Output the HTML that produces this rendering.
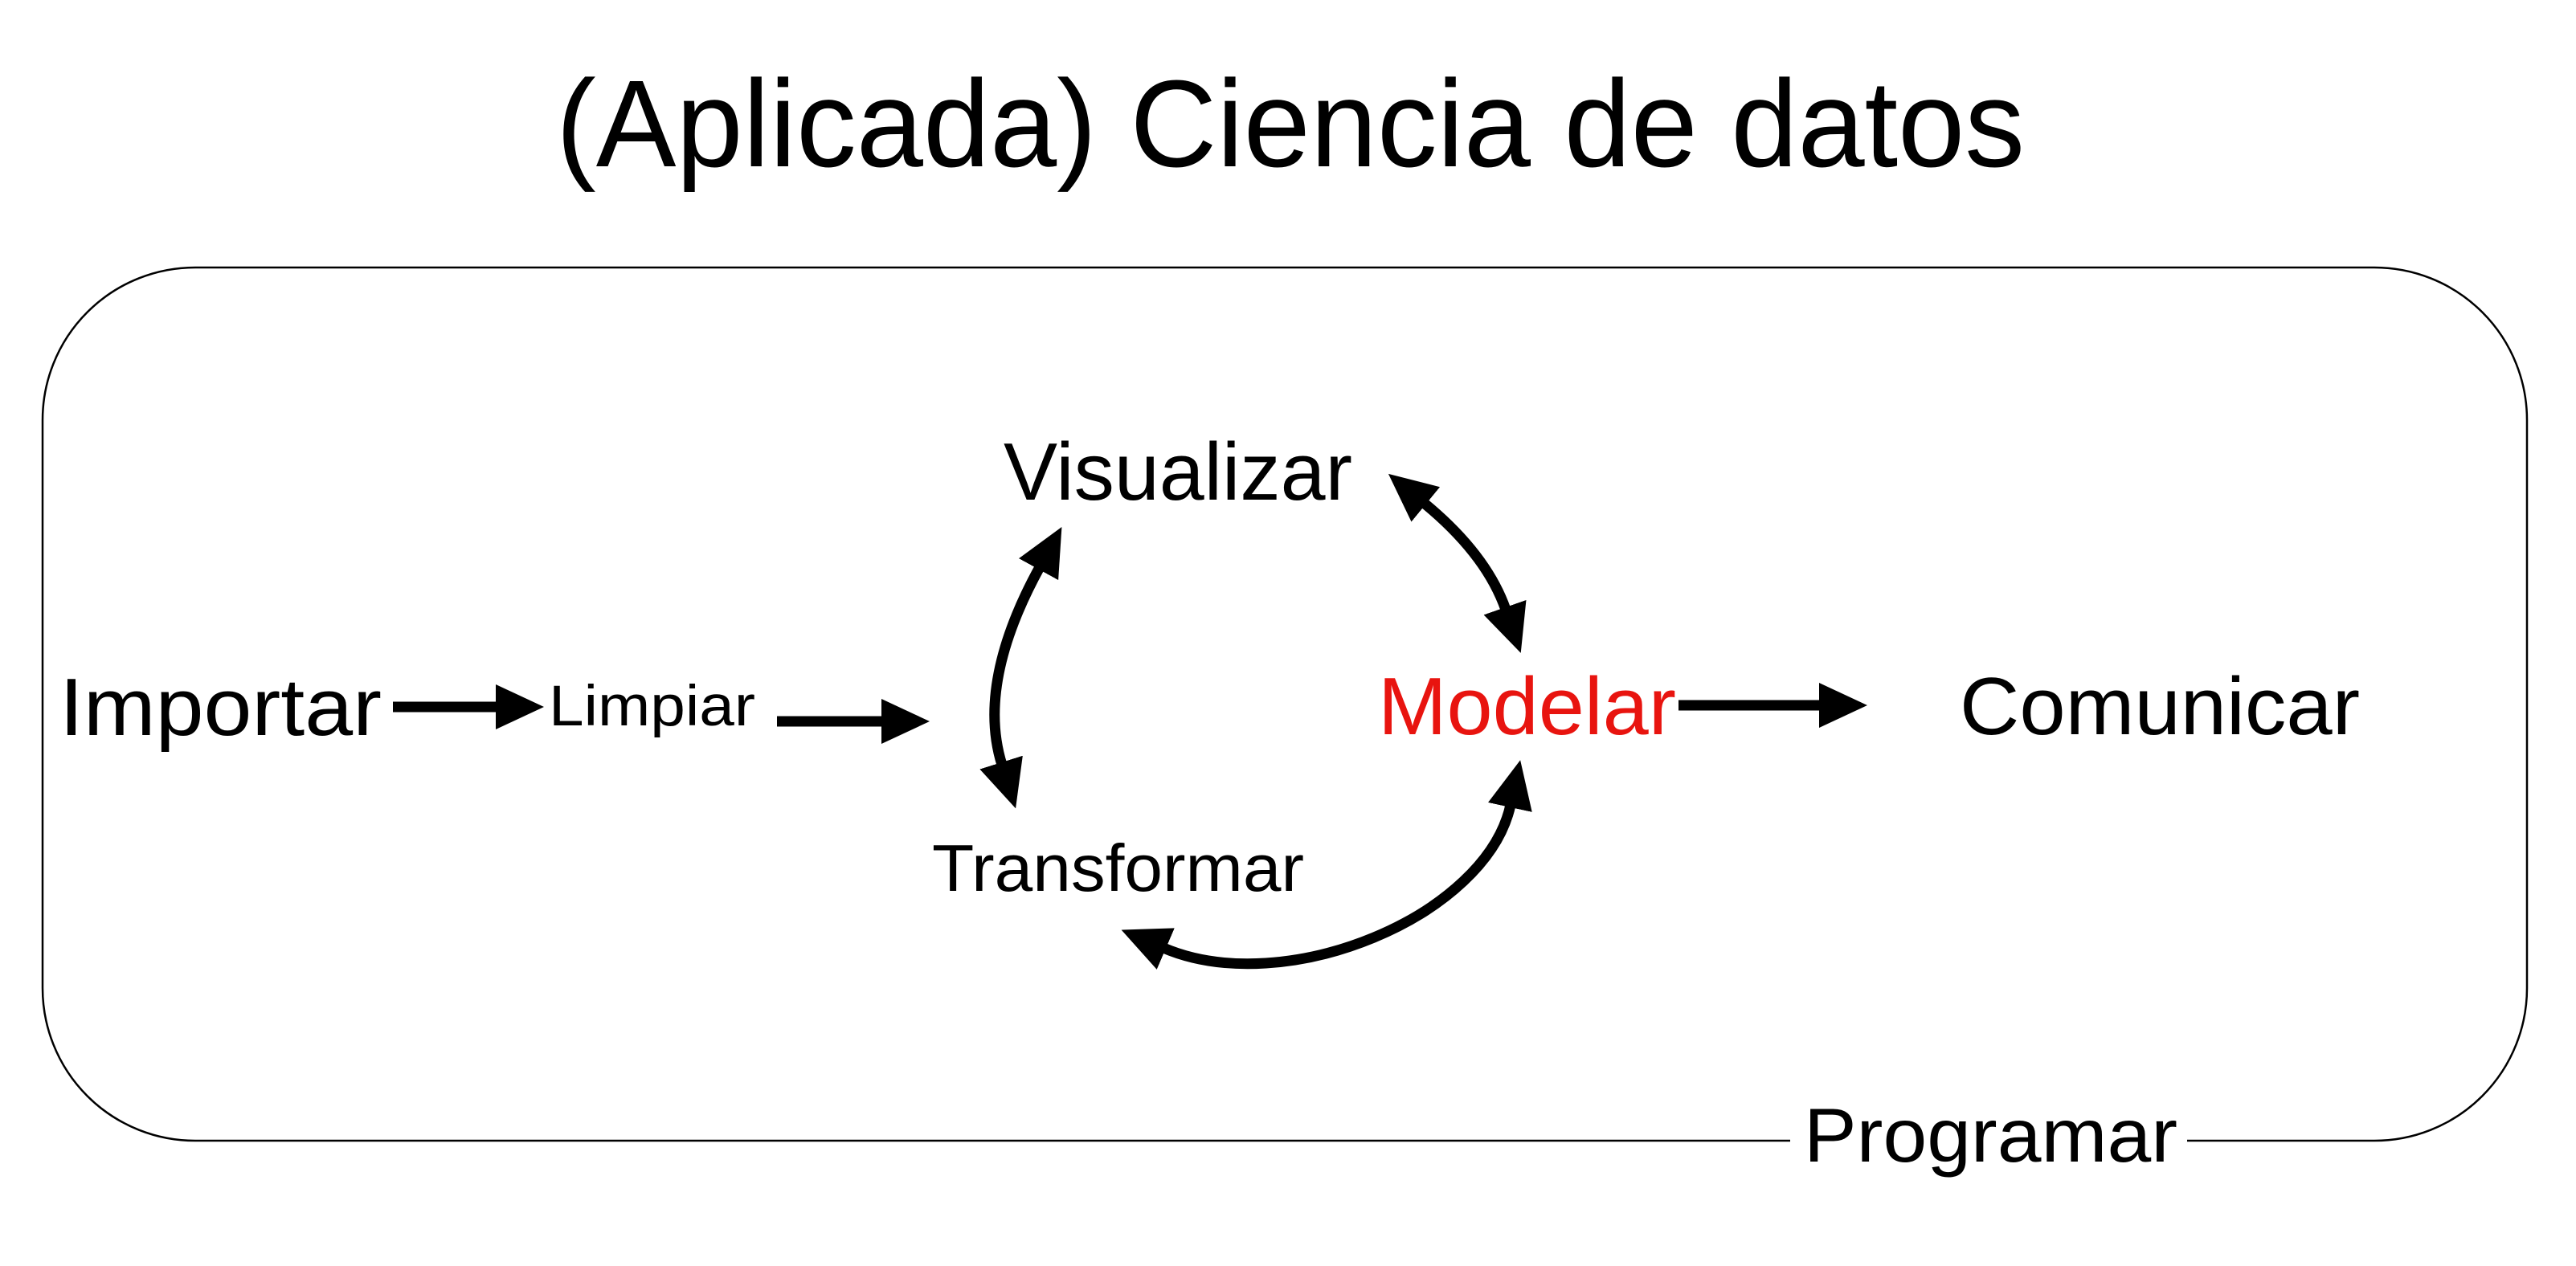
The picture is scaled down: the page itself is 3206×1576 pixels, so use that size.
<!DOCTYPE html>
<html><head><meta charset="utf-8"><style>
html,body{margin:0;padding:0;background:#fff;}
svg{display:block;}
text{font-family:"Liberation Sans",sans-serif;}
</style></head><body>
<svg width="3206" height="1576" viewBox="0 0 3206 1576" xmlns="http://www.w3.org/2000/svg">
<defs>
<marker id="ah" markerUnits="userSpaceOnUse" markerWidth="64" markerHeight="58" refX="3" refY="28" orient="auto-start-reverse" viewBox="0 0 64 58">
<path d="M0,0 L60,28 L0,56 z" fill="#000"/>
</marker>
</defs>
<rect x="0" y="0" width="3206" height="1576" fill="#fff"/>
<text x="692" y="207" font-size="154" textLength="1828" lengthAdjust="spacingAndGlyphs" fill="#000">(Aplicada) Ciencia de datos</text>
<rect x="53" y="333" width="3092" height="1087" rx="190" ry="190" fill="none" stroke="#000" stroke-width="2.5"/>
<rect x="2228" y="1400" width="494" height="40" fill="#fff"/>
<text x="2245" y="1446" font-size="95" textLength="465" lengthAdjust="spacingAndGlyphs">Programar</text>
<text x="74" y="915" font-size="101" textLength="401" lengthAdjust="spacingAndGlyphs">Importar</text>
<text x="683" y="903" font-size="71" textLength="257" lengthAdjust="spacingAndGlyphs">Limpiar</text>
<text x="1249" y="622" font-size="101" textLength="434" lengthAdjust="spacingAndGlyphs">Visualizar</text>
<text x="1160" y="1109" font-size="83" textLength="463" lengthAdjust="spacingAndGlyphs">Transformar</text>
<text x="1715" y="914" font-size="101" textLength="371" lengthAdjust="spacingAndGlyphs" fill="#e8140f">Modelar</text>
<text x="2439" y="914" font-size="101" textLength="498" lengthAdjust="spacingAndGlyphs">Comunicar</text>
<g stroke="#000" stroke-width="13" fill="none" stroke-linecap="butt">
<line x1="489" y1="880" x2="620" y2="880" marker-end="url(#ah)"/>
<line x1="967" y1="898" x2="1100" y2="898" marker-end="url(#ah)"/>
<line x1="2089" y1="878" x2="2267" y2="878" marker-end="url(#ah)"/>
<path d="M1294,706 Q1215,850 1247,952" marker-start="url(#ah)" marker-end="url(#ah)"/>
<path d="M1772,626 Q1850,690 1874,759" marker-start="url(#ah)" marker-end="url(#ah)"/>
<path d="M1448,1180 C1600,1245 1850,1140 1880,1002" marker-start="url(#ah)" marker-end="url(#ah)"/>
</g>
</svg>
</body></html>
